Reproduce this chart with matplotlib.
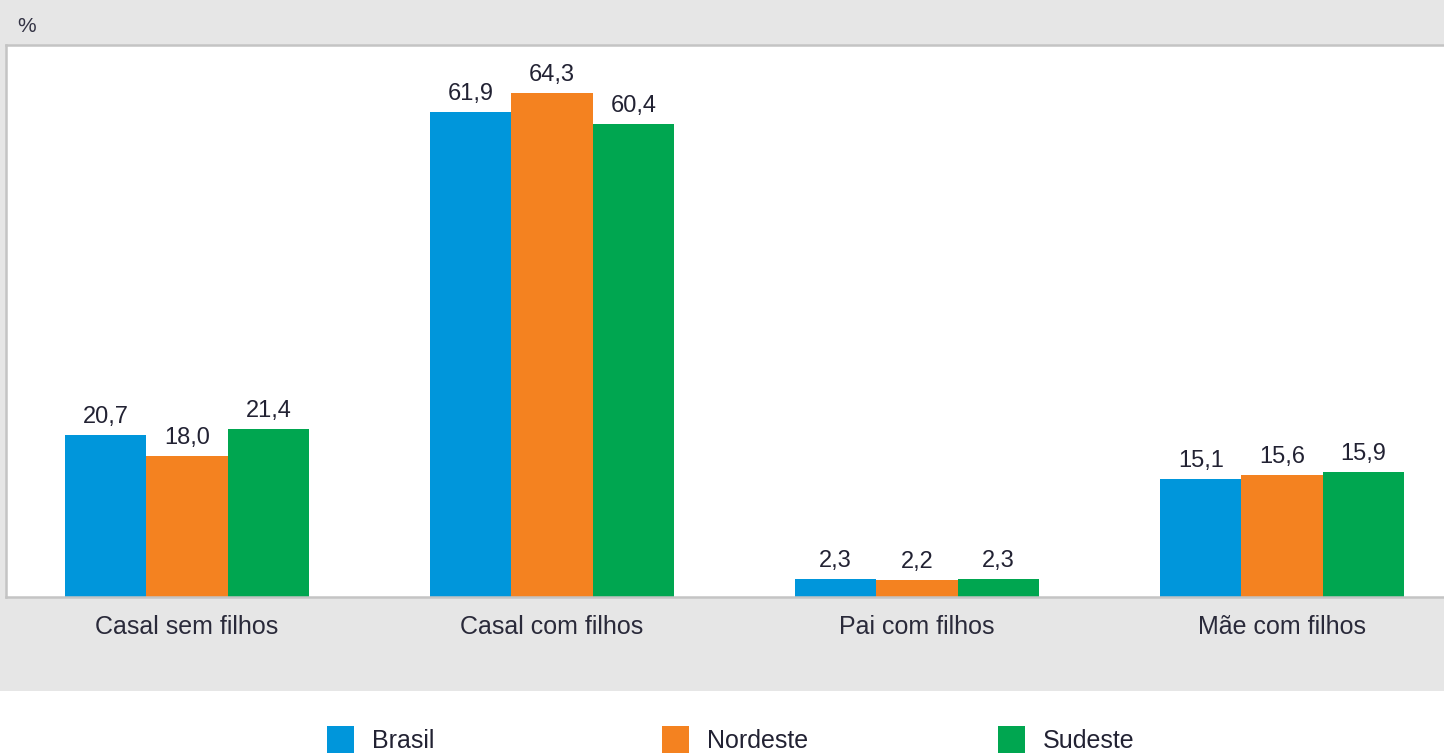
import matplotlib.pyplot as plt
import numpy as np
from matplotlib.patches import Rectangle

categorias = ['Casal sem filhos', 'Casal com filhos', 'Pai com filhos', 'Mãe com filhos']
brasil = [20.7, 61.9, 2.3, 15.1]
nordeste = [18.0, 64.3, 2.2, 15.6]
sudeste = [21.4, 60.4, 2.3, 15.9]
series = ['Brasil', 'Nordeste', 'Sudeste']
cores = ['#0096db', '#f48220', '#00a650']

plt.rcParams['font.family'] = ['Liberation Sans', 'DejaVu Sans']

fig = plt.figure(figsize=(14.44, 7.53), dpi=100, facecolor='white')
# grey band behind the chart
fig.patches.append(Rectangle((0, 62 / 753), 1, 1, transform=fig.transFigure,
                             facecolor='#e6e6e6', edgecolor='none', zorder=-10))

ax = fig.add_axes([6 / 1444, 156 / 753, 1.0, 552 / 753])
ax.set_facecolor('white')

x = np.arange(len(categorias))
w = 0.223
for i, (vals, cor) in enumerate(zip([brasil, nordeste, sudeste], cores)):
    pos = x + (i - 1) * w
    ax.bar(pos, vals, width=w, color=cor, edgecolor='none')
    for p, v in zip(pos, vals):
        ax.text(p, v + 0.9, f'{v:.1f}'.replace('.', ','), ha='center', va='bottom',
                fontsize=17, color='#222233')

ax.set_xlim(-0.496, 3.46)
ax.set_ylim(0, 70.45)
ax.set_yticks([])
ax.set_xticks(x)
ax.set_xticklabels(categorias, fontsize=18, color='#2a2a3a')
ax.tick_params(axis='x', length=0, pad=13)
for s in ['left', 'top', 'bottom']:
    ax.spines[s].set_color('#c4c4c4')
    ax.spines[s].set_linewidth(1.8)
ax.spines['right'].set_visible(False)

fig.text(17 / 1444, 1 - 26 / 753, '%', fontsize=15, color='#333344', va='center')

# legend
leg_x = [327, 662, 998]
for lx, nome, cor in zip(leg_x, series, cores):
    fig.patches.append(Rectangle((lx / 1444, 0), 27 / 1444, 27 / 753,
                                 transform=fig.transFigure, facecolor=cor,
                                 edgecolor='none'))
    fig.text((lx + 45) / 1444, 12 / 753, nome, fontsize=18, va='center',
             color='#222233')

fig.savefig('out.png', dpi=100, facecolor=fig.get_facecolor())
